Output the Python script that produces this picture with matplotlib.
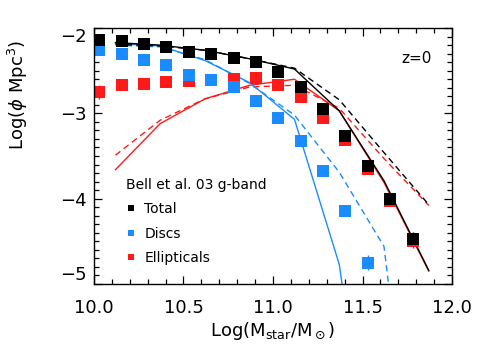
import numpy as np
import matplotlib
matplotlib.use('Agg')
import matplotlib.pyplot as plt
from matplotlib.lines import Line2D

# observed points (Bell et al. 03 g-band)
x_obs = [10.03, 10.155, 10.28, 10.405, 10.53, 10.655, 10.78, 10.905,
         11.03, 11.155, 11.28, 11.405, 11.53, 11.655, 11.78]
tot_obs = [-2.135, -2.155, -2.185, -2.225, -2.28, -2.30, -2.35, -2.40,
           -2.52, -2.695, -2.95, -3.26, -3.62, -4.0, -4.47]
tot_err = [0.02, 0.02, 0.02, 0.02, 0.02, 0.02, 0.02, 0.02,
           0.02, 0.02, 0.02, 0.03, 0.04, 0.05, 0.08]
disc_obs = [-2.26, -2.30, -2.37, -2.43, -2.545, -2.605, -2.695, -2.85,
            -3.05, -3.32, -3.68, -4.14, -4.75]
disc_err = [0.02, 0.02, 0.02, 0.02, 0.02, 0.02, 0.02, 0.02,
            0.02, 0.03, 0.04, 0.05, 0.09]
ell_obs = [-2.75, -2.665, -2.655, -2.63, -2.625, -2.61, -2.595, -2.585,
           -2.665, -2.81, -3.05, -3.31, -3.65, -4.03, -4.5]
ell_err = [0.08, 0.03, 0.02, 0.02, 0.02, 0.02, 0.02, 0.02,
           0.02, 0.02, 0.02, 0.03, 0.04, 0.05, 0.08]

# model curves
x_mod = [10.12, 10.37, 10.62, 10.87, 11.12, 11.37, 11.62, 11.87]
tot_solid = [-2.17, -2.20, -2.26, -2.36, -2.48, -2.97, -3.79, -4.84]
tot_dash = [-2.19, -2.21, -2.26, -2.36, -2.47, -2.84, -3.46, -4.07]
disc_solid = [-2.18, -2.21, -2.38, -2.64, -3.07, -4.77, -8.4, np.nan]
disc_dash = [-2.20, -2.22, -2.37, -2.65, -3.02, -3.69, -4.56, -8.9]
ell_solid = [-3.66, -3.12, -2.83, -2.67, -2.60, -2.97, -3.81, -4.85]
ell_dash = [-3.49, -3.08, -2.83, -2.69, -2.67, -2.94, -3.53, -4.08]

BLACK = 'black'
BLUE = '#1a8cff'
RED = '#ff1a1a'

plt.rcParams['font.family'] = ['DejaVu Sans']
plt.rcParams['mathtext.fontset'] = 'dejavusans'

fig = plt.figure(figsize=(4.91, 3.51), dpi=100)
ax = fig.add_axes([0.1914, 0.191, 0.7292, 0.729])

dash = (0, (4.5, 3))
ax.plot(x_mod, ell_solid, color=RED, lw=1.0)
ax.plot(x_mod, ell_dash, color=RED, lw=1.0, ls=dash)
ax.plot(x_mod, disc_solid, color=BLUE, lw=1.0)
ax.plot(x_mod, disc_dash, color=BLUE, lw=1.0, ls=dash)
ax.plot(x_mod, tot_solid, color=BLACK, lw=1.0)
ax.plot(x_mod, tot_dash, color=BLACK, lw=1.0, ls=dash)

ms = 8.5
ax.errorbar(x_obs, ell_obs, yerr=ell_err, fmt='s', color=RED, ms=ms,
            mew=0, elinewidth=1.0, capsize=2.5)
ax.errorbar(x_obs[:len(disc_obs)], disc_obs, yerr=disc_err, fmt='s',
            color=BLUE, ms=ms, mew=0, elinewidth=1.0, capsize=2.5)
ax.errorbar(x_obs, tot_obs, yerr=tot_err, fmt='s', color=BLACK, ms=ms,
            mew=0, elinewidth=1.0, capsize=2.5)

ax.set_xlim(10.0, 12.0)
ax.set_ylim(-5, -2)
ax.set_xticks([10.0, 10.5, 11.0, 11.5, 12.0])
ax.set_xticklabels(['10.0', '10.5', '11.0', '11.5', '12.0'])
ax.set_xticks(np.arange(10.0, 12.01, 0.1), minor=True)
ax.set_yticks([-5, -4, -3, -2])
ax.set_yticklabels(['\u22125', '\u22124', '\u22123', '\u22122'])
ax.set_yticks(np.arange(-5, -1.99, 0.1), minor=True)
ax.tick_params(which='both', direction='in', top=True, right=True,
               labelsize=13, width=0.9)
ax.tick_params(which='major', length=6)
ax.tick_params(which='minor', length=3.5)
ax.tick_params(axis='x', pad=11)
ax.tick_params(axis='y', pad=5)
for s in ax.spines.values():
    s.set_linewidth(1.0)

ylabs = ax.get_yticklabels()
ylabs[0].set_va('bottom')
ylabs[-1].set_va('top')

ax.set_xlabel(r'Log(M$_{\rm star}$/M$_\odot$)', fontsize=13, labelpad=2)
ax.set_ylabel(r'Log($\phi$ Mpc$^3$)', fontsize=13)
ax.yaxis.set_label_coords(-0.18, 0.74)

ax.text(0.944, 0.883, 'z=0', transform=ax.transAxes, ha='right',
        va='center', fontsize=11)

handles = [Line2D([], [], ls='none', marker='s', ms=4, color=c, mew=0)
           for c in (BLACK, BLUE, RED)]
leg = ax.legend(handles, ['Total', 'Discs', 'Ellipticals'],
                title='Bell et al. 03 g-band', title_fontsize=10,
                fontsize=10, frameon=False, loc='upper left',
                bbox_to_anchor=(0.09, 0.415), borderpad=0,
                borderaxespad=0, handlelength=0.7, handletextpad=0.6,
                labelspacing=0.75, alignment='left')

fig.savefig('out.png', dpi=100)
